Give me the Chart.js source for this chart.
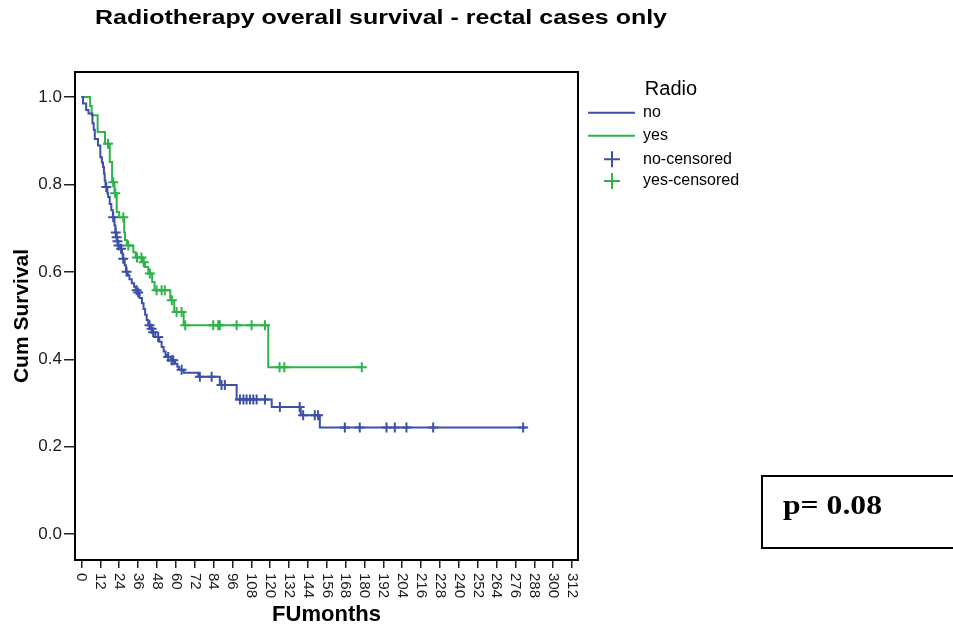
<!DOCTYPE html>
<html>
<head>
<meta charset="utf-8">
<script src="https://cdn.jsdelivr.net/npm/chart.js@4/dist/chart.umd.min.js"></script>
<style>
  html, body { margin: 0; padding: 0; background: #fff; }
  #wrap { width: 953px; height: 628px; }
</style>
</head>
<body>
<div id="wrap"><canvas id="km" width="953" height="628"></canvas></div>
<script>
// survival steps (months, cum survival)
var noTimes = [0, 1, 3, 4.5, 7, 7.8, 8.5, 10.5, 12, 13, 13.7, 14.3, 14.8, 15.3, 16.5, 17, 18, 19, 20, 21, 21.6, 22.2, 22.6, 23.2, 24.5, 25.8, 26.3, 27.5, 28.3, 29.5, 30.5, 32, 33.5, 34.5, 35.8, 37, 38.5, 39.5, 40.5, 41.5, 42.5, 44, 45.2, 47, 49.5, 51, 52.3, 53.5, 54.8, 57, 59.5, 61, 62, 65, 74.3, 88, 98.7, 121, 139.5, 151.6, 283];
var noSurv = [1.0, 0.985, 0.97, 0.962, 0.94, 0.925, 0.904, 0.889, 0.862, 0.85, 0.84, 0.825, 0.809, 0.794, 0.78, 0.771, 0.755, 0.741, 0.725, 0.706, 0.69, 0.679, 0.67, 0.66, 0.653, 0.642, 0.63, 0.615, 0.6, 0.592, 0.583, 0.574, 0.566, 0.558, 0.553, 0.54, 0.528, 0.515, 0.502, 0.49, 0.478, 0.47, 0.462, 0.451, 0.44, 0.428, 0.418, 0.41, 0.405, 0.398, 0.39, 0.383, 0.376, 0.369, 0.36, 0.341, 0.308, 0.291, 0.272, 0.244, 0.244];
var yesTimes = [0, 5.5, 6.5, 10.3, 15, 18, 19.5, 21, 22.4, 24, 27.2, 27.7, 29, 33, 34.5, 39, 40.4, 42.5, 45, 46.5, 56.5, 59, 65, 118.8, 178.3];
var yesSurv = [1.0, 0.979, 0.958, 0.92, 0.893, 0.851, 0.805, 0.78, 0.737, 0.725, 0.69, 0.672, 0.66, 0.645, 0.633, 0.622, 0.611, 0.596, 0.577, 0.558, 0.535, 0.508, 0.478, 0.382, 0.382];

// censored cases
var noCensT = [15.8, 20.2, 21.8, 22.4, 22.9, 23.6, 25.2, 26.6, 28.7, 35.1, 36.1, 43.3, 44.6, 45.6, 48.8, 55.2, 57.3, 58.4, 63.7, 75.3, 82.8, 89.1, 91.2, 100.8, 103, 105, 107.2, 109.3, 111.4, 116.7, 126.2, 138.8, 141, 148.4, 150.5, 167.5, 177, 194, 199.3, 206.7, 223.7, 280.9];
var noCensS = [0.794, 0.725, 0.69, 0.679, 0.67, 0.66, 0.653, 0.63, 0.6, 0.558, 0.553, 0.478, 0.47, 0.462, 0.451, 0.405, 0.398, 0.398, 0.376, 0.36, 0.36, 0.341, 0.341, 0.308, 0.308, 0.308, 0.308, 0.308, 0.308, 0.308, 0.291, 0.291, 0.272, 0.272, 0.272, 0.244, 0.244, 0.244, 0.244, 0.244, 0.244, 0.244];
var yesCensT = [16.9, 20.2, 21.5, 26.6, 29.8, 35.3, 38.2, 39.6, 43.5, 47.8, 51, 53, 57.5, 60.5, 63.7, 66, 83.8, 87, 88, 98.7, 108.2, 116.7, 126, 129, 178.3];
var yesCensS = [0.893, 0.805, 0.78, 0.725, 0.66, 0.633, 0.633, 0.622, 0.596, 0.558, 0.558, 0.558, 0.535, 0.508, 0.508, 0.478, 0.478, 0.478, 0.478, 0.478, 0.478, 0.478, 0.382, 0.382, 0.382];

var xTicks = [0, 12, 24, 36, 48, 60, 72, 84, 96, 108, 120, 132, 144, 156, 168, 180, 192, 204, 216, 228, 240, 252, 264, 276, 288, 300, 312];
var yTicks = [0.0, 0.2, 0.4, 0.6, 0.8, 1.0];
var seriesNames = ["no", "yes", "no-censored", "yes-censored"];

var blue = "#3C50A8";
var green = "#2DB34A";
var sans = "Arial, 'Liberation Sans', sans-serif";

function pts(xs, ys) {
  var out = [];
  for (var i = 0; i < xs.length; i++) out.push({x: xs[i], y: ys[i]});
  return out;
}

// draw text squeezed/stretched to a given width
function fitText(ctx, text, x, y, w) {
  var m = ctx.measureText(text).width;
  ctx.save();
  ctx.translate(x, y);
  ctx.scale(w / m, 1);
  ctx.fillText(text, 0, 0);
  ctx.restore();
}

function cross(ctx, x, y, r) {
  ctx.beginPath();
  ctx.moveTo(x - r, y); ctx.lineTo(x + r, y);
  ctx.moveTo(x, y - r); ctx.lineTo(x, y + r);
  ctx.stroke();
}

var decor = {
  id: "decor",
  afterDraw: function(chart) {
    var ctx = chart.ctx;
    var a = chart.chartArea;
    ctx.save();
    // plot frame
    ctx.strokeStyle = "#000";
    ctx.lineWidth = 2;
    ctx.strokeRect(a.left, a.top, a.right - a.left, a.bottom - a.top);

    // x tick labels turned clockwise
    var xs = chart.scales.x;
    ctx.fillStyle = "#1a1a1a";
    ctx.font = "15px " + sans;
    ctx.textAlign = "left";
    ctx.textBaseline = "middle";
    xs.ticks.forEach(function(t) {
      var px = xs.getPixelForValue(t.value);
      ctx.save();
      ctx.translate(px, a.bottom + 13);
      ctx.rotate(Math.PI / 2);
      ctx.fillText(String(t.value), 0, 0);
      ctx.restore();
    });

    // chart title
    ctx.fillStyle = "#000";
    ctx.font = "bold 20px " + sans;
    ctx.textBaseline = "alphabetic";
    fitText(ctx, "Radiotherapy overall survival - rectal cases only", 95, 24, 572);

    // legend
    ctx.font = "20px " + sans;
    ctx.textAlign = "center";
    ctx.fillText("Radio", 671, 95);
    ctx.textAlign = "left";
    ctx.textBaseline = "middle";
    ctx.font = "16px " + sans;
    var rows = [112.7, 135.7, 159.3, 181];
    var cols = [blue, green, blue, green];
    for (var i = 0; i < 4; i++) {
      ctx.strokeStyle = cols[i];
      ctx.lineWidth = 2;
      if (i < 2) {
        ctx.beginPath();
        ctx.moveTo(588, rows[i]); ctx.lineTo(635, rows[i]);
        ctx.stroke();
      } else {
        cross(ctx, 612, rows[i], 8);
      }
      ctx.fillStyle = "#000";
      ctx.fillText(seriesNames[i], 643, rows[i]);
    }

    // p-value box
    ctx.strokeStyle = "#000";
    ctx.lineWidth = 2;
    ctx.strokeRect(762, 476, 200, 72);
    ctx.font = "bold 27px 'Times New Roman', 'Liberation Serif', serif";
    ctx.textBaseline = "alphabetic";
    fitText(ctx, "p= 0.08", 783, 514, 99);
    ctx.restore();
  }
};

var ctx = document.getElementById("km").getContext("2d");
var chart = new Chart(ctx, {
  type: "line",
  data: {
    datasets: [
      {
        label: seriesNames[0],
        data: pts(noTimes, noSurv),
        borderColor: blue,
        borderWidth: 2,
        stepped: "before",
        pointRadius: 0,
        fill: false
      },
      {
        label: seriesNames[1],
        data: pts(yesTimes, yesSurv),
        borderColor: green,
        borderWidth: 2,
        stepped: "before",
        pointRadius: 0,
        fill: false
      },
      {
        type: "scatter",
        label: seriesNames[2],
        data: pts(noCensT, noCensS),
        borderColor: blue,
        backgroundColor: blue,
        pointStyle: "cross",
        pointRadius: 5,
        pointBorderWidth: 2,
        showLine: false
      },
      {
        type: "scatter",
        label: seriesNames[3],
        data: pts(yesCensT, yesCensS),
        borderColor: green,
        backgroundColor: green,
        pointStyle: "cross",
        pointRadius: 5,
        pointBorderWidth: 2,
        showLine: false
      }
    ]
  },
  options: {
    responsive: false,
    animation: false,
    events: [],
    devicePixelRatio: 1,
    layout: { padding: { top: 72, right: 375, left: 0, bottom: 0 } },
    plugins: {
      legend: { display: false },
      title: { display: false },
      tooltip: { enabled: false }
    },
    scales: {
      x: {
        type: "linear",
        min: -4.1,
        max: 315.8,
        afterBuildTicks: function(scale) {
          scale.ticks = xTicks.map(function(v) { return {value: v}; });
        },
        afterFit: function(scale) { scale.height = 68; },
        ticks: { display: false },
        grid: { drawOnChartArea: false, drawTicks: true, tickLength: 8, color: "#222", lineWidth: 1.5 },
        border: { display: false },
        title: {
          display: true,
          text: "FUmonths",
          color: "#000",
          font: { family: sans, size: 22, weight: "bold" },
          padding: { top: 5, bottom: 0 }
        }
      },
      y: {
        min: -0.059,
        max: 1.057,
        afterBuildTicks: function(scale) {
          scale.ticks = yTicks.map(function(v) { return {value: v}; });
        },
        afterFit: function(scale) { scale.width = 75; },
        ticks: {
          color: "#1a1a1a",
          font: { family: sans, size: 17 },
          padding: 2,
          callback: function(v) { return v.toFixed(1); }
        },
        grid: { drawOnChartArea: false, drawTicks: true, tickLength: 11, color: "#222", lineWidth: 1.5 },
        border: { display: false },
        title: {
          display: true,
          text: "Cum Survival",
          color: "#000",
          font: { family: sans, size: 21, weight: "bold" },
          padding: { top: 10, bottom: 0 }
        }
      }
    }
  },
  plugins: [decor]
});
</script>
</body>
</html>
